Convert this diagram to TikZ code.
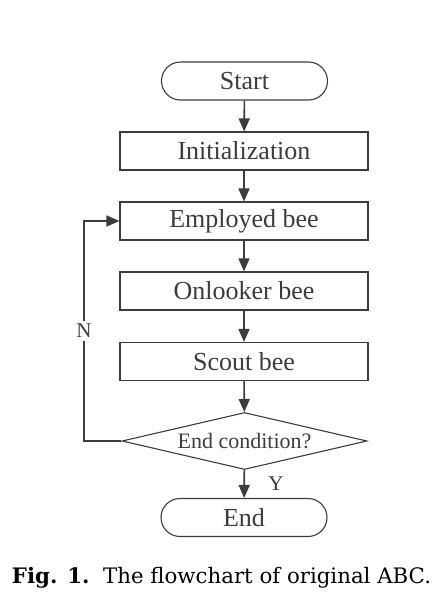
\documentclass[tikz,border=0pt]{standalone}
\usepackage{fontspec}
\setmainfont{Liberation Serif}
\newfontfamily\capfont{DejaVu Serif}
\usepackage{tikz}
\usetikzlibrary{arrows.meta,positioning,shapes.geometric,calc}
\definecolor{LineGray}{RGB}{60,60,60}
\tikzset{
    termbox/.style={draw=LineGray, line width=1.1pt, rounded corners=19pt, minimum width=166pt, minimum height=38pt, inner sep=0pt, text=LineGray, font=\fontsize{26}{30}\selectfont},
    procbox/.style={draw=LineGray, line width=1.1pt, minimum width=248pt, minimum height=38pt, inner sep=0pt, text=LineGray, font=\fontsize{26}{30}\selectfont},
    decbox/.style={draw=LineGray, line width=1.1pt, diamond, aspect=4.3, minimum width=245pt, minimum height=57pt, inner sep=0pt, text=LineGray, font=\fontsize{22}{26}\selectfont},
    solidarr/.style={-{Triangle[length=13pt,width=11pt]}, line width=1.6pt, LineGray},
    lbl/.style={text=LineGray, font=\fontsize{21}{25}\selectfont},
}
\begin{document}
\begin{tikzpicture}[x=1pt,y=-1pt]
\useasboundingbox (0,0) rectangle (447,595);
\node[termbox] (start) at (244.5,81) {Start};
\node[procbox] (init) at (244,151) {Initialization};
\node[procbox] (emp) at (244,221) {Employed bee};
\node[procbox] (onl) at (244,291) {Onlooker bee};
\node[procbox] (scout) at (244,361.5) {Scout bee};
\node[decbox] (cond) at (244.5,441) {End condition?};
\node[termbox] (stop) at (244,517.5) {End};
\coordinate (back) at (84,221);

\draw[solidarr] (start) -- (init);
\draw[solidarr] (init) -- (emp);
\draw[solidarr] (emp) -- (onl);
\draw[solidarr] (onl) -- (scout);
\draw[solidarr] (scout) -- (cond);
\draw[solidarr] (cond) -- node[lbl,right=20pt]{Y} (stop);
\draw[solidarr] (cond.west) -- (cond.west -| back) -- node[lbl,fill=white]{N} (back) -- (emp.west);

\node[font=\capfont\fontsize{21.3}{25}\selectfont] (cap) at (221.5,578) {\textbf{Fig. 1.}\ \ The flowchart of original ABC.};
\end{tikzpicture}
\end{document}
